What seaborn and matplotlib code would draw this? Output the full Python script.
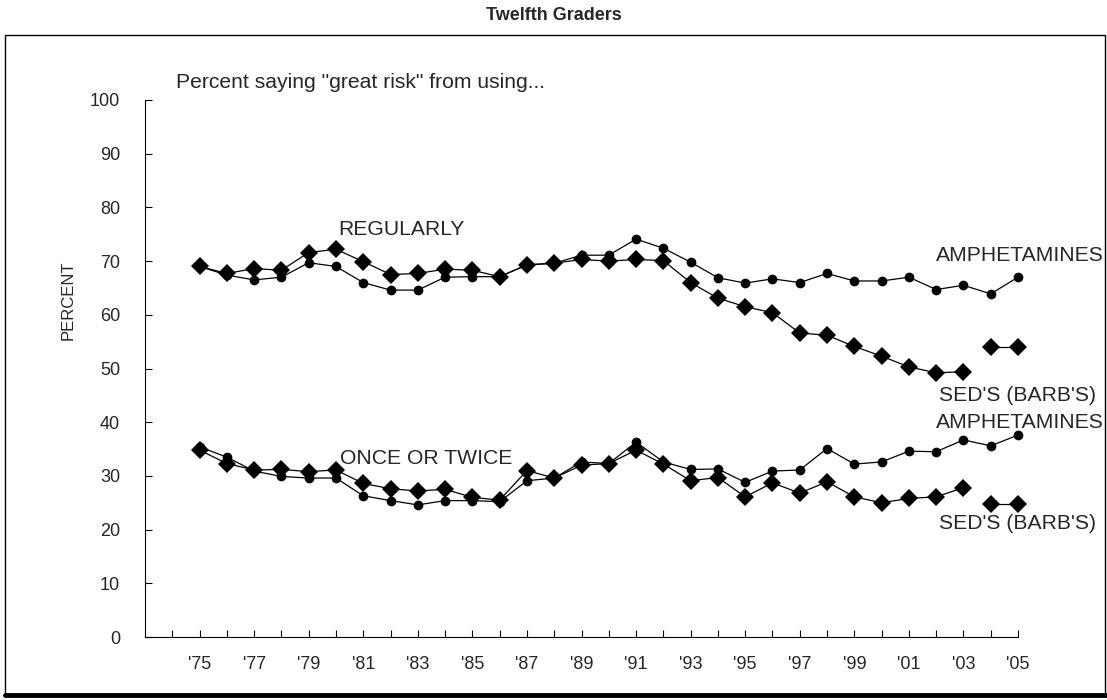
import numpy as np
import pandas as pd
import matplotlib.pyplot as plt
import seaborn as sns
from matplotlib.patches import Rectangle
from matplotlib.lines import Line2D

years = list(range(1975, 2006))

# percent saying "great risk" - used regularly
amph_regular = [69.0, 67.4, 66.5, 67.0, 69.7, 69.0, 66.0, 64.6, 64.6, 67.0, 67.1,
                67.1, 69.3, 69.6, 71.1, 71.1, 74.1, 72.4, 69.8, 66.9, 65.9, 66.7,
                66.0, 67.7, 66.3, 66.3, 67.0, 64.7, 65.5, 63.9, 67.0]
sed_regular = [69.0, 67.7, 68.6, 68.3, 71.6, 72.2, 69.9, 67.5, 67.7, 68.5, 68.3,
               67.1, 69.3, 69.6, 70.3, 70.0, 70.3, 70.1, 66.0, 63.1, 61.5, 60.4,
               56.6, 56.2, 54.1, 52.3, 50.3, 49.2, 49.4, 54.0, 54.0]

# tried once or twice
amph_once = [35.4, 33.5, 30.9, 29.9, 29.6, 29.6, 26.3, 25.4, 24.6, 25.4, 25.4,
             25.2, 29.1, 29.6, 32.6, 32.3, 36.3, 32.6, 31.2, 31.3, 28.8, 30.9,
             31.1, 35.1, 32.2, 32.6, 34.6, 34.5, 36.7, 35.6, 37.6]
sed_once = [34.8, 32.3, 31.1, 31.2, 30.8, 31.1, 28.6, 27.6, 27.2, 27.5, 26.0,
            25.5, 31.0, 29.6, 32.0, 32.3, 34.8, 32.2, 29.1, 29.7, 26.1, 28.7,
            26.8, 28.9, 26.1, 25.0, 25.8, 26.1, 27.8, 24.8, 24.8]

# question wording changed for sedatives in 2004 -> break in the line
sed_break_year = 2004

label_years = list(range(1975, 2006, 2))
minor_years = list(range(1974, 2006, 2))
tick_labels = [f"'{y % 100:02d}" for y in label_years]

sns.set_style("white")
plt.rcParams['font.family'] = ['Liberation Sans', 'DejaVu Sans']

fig = plt.figure(figsize=(11.07, 7), dpi=100)
ax = fig.add_axes([145 / 1107, 63 / 700, 873 / 1107, 537 / 700])

df = pd.DataFrame({'year': years, 'amph_regular': amph_regular, 'sed_regular': sed_regular,
                   'amph_once': amph_once, 'sed_once': sed_once})
before = df[df['year'] < sed_break_year]
after = df[df['year'] >= sed_break_year]

line_kw = dict(color='black', linewidth=0.9, estimator=None, legend=False, ax=ax,
               clip_on=False)
circle_kw = dict(marker='o', markersize=7, markeredgewidth=0)
diamond_kw = dict(marker='D', markersize=9.5, markeredgewidth=0)

for col in ['amph_regular', 'amph_once']:
    sns.lineplot(data=df, x='year', y=col, **circle_kw, **line_kw)
for col in ['sed_regular', 'sed_once']:
    sns.lineplot(data=before, x='year', y=col, **diamond_kw, **line_kw)
    sns.lineplot(data=after, x='year', y=col, **diamond_kw, **line_kw)

ax.set_xlim(1973, 2005)
ax.set_ylim(0, 100)
ax.set_yticks(range(0, 101, 10))
ax.set_xticks(label_years)
ax.set_xticklabels(tick_labels)
ax.set_xticks(minor_years, minor=True)
ax.tick_params(axis='both', which='both', direction='in', length=5, width=0.8,
               color='black', labelsize=13, left=True, bottom=True)
ax.tick_params(axis='y', pad=18)
ax.tick_params(axis='x', pad=14)
ax.set_xlabel('')
ax.set_ylabel('')
for side in ['top', 'right']:
    ax.spines[side].set_visible(False)
for side in ['left', 'bottom']:
    ax.spines[side].set_color('black')
    ax.spines[side].set_linewidth(0.8)

txt = dict(fontsize=15.2, va='center', ha='left', clip_on=False)
ax.text(1974.15, 103.2, 'Percent saying "great risk" from using...', **txt)
ax.text(1980.1, 75.8, 'REGULARLY', **txt)
ax.text(2002.0, 71.1, 'AMPHETAMINES', **txt)
ax.text(2002.12, 44.9, "SED'S (BARB'S)", **txt)
ax.text(1980.16, 33.3, 'ONCE OR TWICE', **txt)
ax.text(2002.0, 39.9, 'AMPHETAMINES', **txt)
ax.text(2002.12, 21.2, "SED'S (BARB'S)", **txt)

fig.text(68 / 1107, 1 - 300 / 700, 'PERCENT', rotation=90, fontsize=12,
         ha='center', va='center')
fig.text(0.5, 1 - 16 / 700, 'Twelfth Graders', fontsize=13, fontweight='bold',
         ha='center', va='center')

# outer frame
fig.patches.append(Rectangle((5 / 1107, 5 / 700), 1100 / 1107, 660 / 700,
                             transform=fig.transFigure, fill=False,
                             edgecolor='black', linewidth=1))
fig.lines.append(Line2D([5 / 1107, 1], [5 / 700, 5 / 700], transform=fig.transFigure,
                        color='black', linewidth=3.5))

fig.savefig('out.png', dpi=100)
